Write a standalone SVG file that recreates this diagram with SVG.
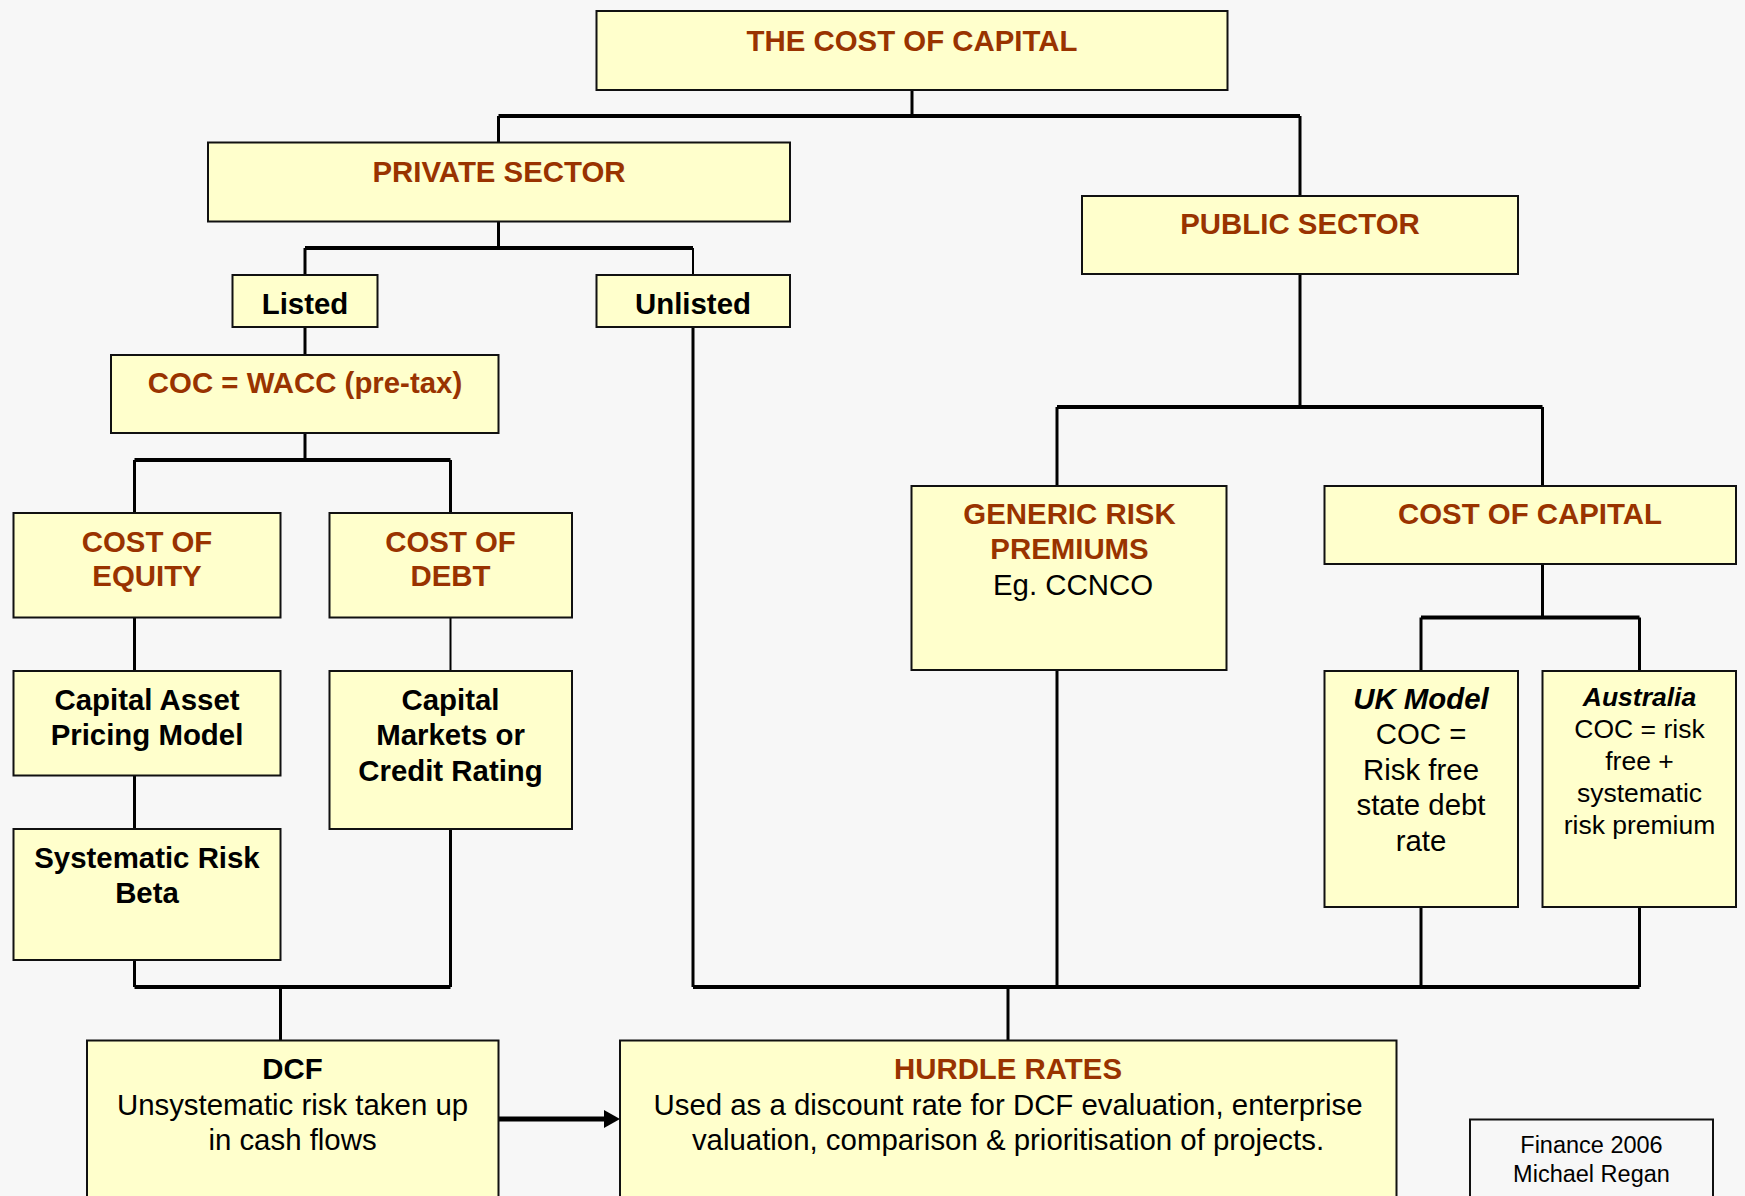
<svg xmlns="http://www.w3.org/2000/svg" width="1745" height="1196" viewBox="0 0 1745 1196">
  <defs>
    <style>
      .box { fill: #ffffcc; stroke: #111; stroke-width: 2; }
      .plain { fill: #f7f7f7; stroke: #111; stroke-width: 2; }
      text { font-family: "Liberation Sans", Arial, sans-serif; font-size: 29.4px; text-anchor: middle; fill: #000; }
      .hd { font-weight: bold; fill: #993300; }
      .bk { font-weight: bold; }
      .bi { font-weight: bold; font-style: italic; }
      .sm { font-size: 26.5px; }
      .ft { font-size: 23.5px; }
      .w { fill: none; stroke: #000; stroke-width: 3; }
      .h { fill: none; stroke: #000; stroke-width: 4; }
      .t { fill: none; stroke: #000; stroke-width: 2; }
    </style>
  </defs>

  <rect width="1745" height="1196" fill="#f7f7f7"/>

  <g id="connectors">
    <!-- root split -->
    <path class="w" d="M912,90 V116"/>
    <path class="h" d="M498.5,116 H1300"/>
    <path class="w" d="M498.5,116 V142.5"/>
    <path class="w" d="M1300,116 V196"/>
    <!-- private sector split -->
    <path class="w" d="M498.5,221.5 V248"/>
    <path class="h" d="M305,248 H693"/>
    <path class="w" d="M305,248 V275"/>
    <path class="t" d="M693,248 V275"/>
    <path class="w" d="M305,327 V355"/>
    <!-- WACC split -->
    <path class="w" d="M305,433 V460"/>
    <path class="h" d="M134.5,460 H450.5"/>
    <path class="w" d="M134.5,460 V513"/>
    <path class="w" d="M450.5,460 V513"/>
    <path class="w" d="M134.5,617.5 V671"/>
    <path class="t" d="M450.5,617.5 V671"/>
    <path class="w" d="M134.5,775.5 V829"/>
    <!-- into DCF -->
    <path class="w" d="M134.5,960 V987"/>
    <path class="w" d="M450.5,829 V987"/>
    <path class="h" d="M134.5,987 H450.5"/>
    <path class="w" d="M280.5,987 V1040.5"/>
    <!-- DCF to hurdle -->
    <path d="M498.5,1119 H605" stroke="#000" stroke-width="5" fill="none"/>
    <path d="M604,1110 L620,1119 L604,1128 Z" fill="#000"/>
    <!-- public sector split -->
    <path class="w" d="M1300,274 V407"/>
    <path class="h" d="M1057,407 H1542.5"/>
    <path class="w" d="M1057,407 V486"/>
    <path class="w" d="M1542.5,407 V486"/>
    <path class="w" d="M1542.5,564 V617.5"/>
    <path class="h" d="M1421,617.5 H1639.5"/>
    <path class="w" d="M1421,617.5 V671"/>
    <path class="w" d="M1639.5,617.5 V671"/>
    <!-- into hurdle rates -->
    <path class="w" d="M693,327 V987"/>
    <path class="w" d="M1057,670 V987"/>
    <path class="w" d="M1421,907 V987"/>
    <path class="w" d="M1639.5,907 V987"/>
    <path class="h" d="M693,987 H1639.5"/>
    <path class="w" d="M1008,987 V1040.5"/>
  </g>

  <g id="cost-of-capital">
    <rect class="box" x="596.5" y="11" width="631" height="79"/>
    <text class="hd" x="912" y="50.5">THE COST OF CAPITAL</text>
  </g>

  <g id="private-sector">
    <rect class="box" x="208" y="142.5" width="582" height="79"/>
    <text class="hd" x="499" y="182">PRIVATE SECTOR</text>
  </g>

  <g id="public-sector">
    <rect class="box" x="1082" y="196" width="436" height="78"/>
    <text class="hd" x="1300" y="234">PUBLIC SECTOR</text>
  </g>

  <g id="listed">
    <rect class="box" x="232.5" y="275" width="145" height="52"/>
    <text class="bk" x="305" y="313.5">Listed</text>
  </g>

  <g id="unlisted">
    <rect class="box" x="596.5" y="275" width="193.5" height="52"/>
    <text class="bk" x="693" y="313.5">Unlisted</text>
  </g>

  <g id="wacc">
    <rect class="box" x="111" y="355" width="387.5" height="78"/>
    <text class="hd" x="305" y="393">COC = WACC (pre-tax)</text>
  </g>

  <g id="cost-of-equity">
    <rect class="box" x="13.5" y="513" width="267" height="104.5"/>
    <text class="hd" x="147" y="551.5">COST OF</text>
    <text class="hd" x="147" y="586">EQUITY</text>
  </g>

  <g id="cost-of-debt">
    <rect class="box" x="329.5" y="513" width="242.5" height="104.5"/>
    <text class="hd" x="450.5" y="551.5">COST OF</text>
    <text class="hd" x="450.5" y="586">DEBT</text>
  </g>

  <g id="capm">
    <rect class="box" x="13.5" y="671" width="267" height="104.5"/>
    <text class="bk" x="147" y="709.5">Capital Asset</text>
    <text class="bk" x="147" y="745">Pricing Model</text>
  </g>

  <g id="credit-rating">
    <rect class="box" x="329.5" y="671" width="242.5" height="158"/>
    <text class="bk" x="450.5" y="709.5">Capital</text>
    <text class="bk" x="450.5" y="745">Markets or</text>
    <text class="bk" x="450.5" y="780.5">Credit Rating</text>
  </g>

  <g id="systematic-risk">
    <rect class="box" x="13.5" y="829" width="267" height="131"/>
    <text class="bk" x="147" y="867.5">Systematic Risk</text>
    <text class="bk" x="147" y="903">Beta</text>
  </g>

  <g id="generic-risk">
    <rect class="box" x="911.5" y="486" width="315" height="184"/>
    <text class="hd" x="1069.5" y="523.5">GENERIC RISK</text>
    <text class="hd" x="1069.5" y="559">PREMIUMS</text>
    <text x="1073" y="595">Eg. CCNCO</text>
  </g>

  <g id="public-coc">
    <rect class="box" x="1324.5" y="486" width="411.5" height="78"/>
    <text class="hd" x="1530" y="523.5">COST OF CAPITAL</text>
  </g>

  <g id="uk-model">
    <rect class="box" x="1324.5" y="671" width="193.5" height="236"/>
    <text class="bi" x="1421" y="709">UK Model</text>
    <text x="1421" y="744">COC =</text>
    <text x="1421" y="779.5">Risk free</text>
    <text x="1421" y="815">state debt</text>
    <text x="1421" y="850.5">rate</text>
  </g>

  <g id="australia">
    <rect class="box" x="1542.5" y="671" width="193.5" height="236"/>
    <text class="bi sm" x="1639.5" y="706">Australia</text>
    <text class="sm" x="1639.5" y="738">COC = risk</text>
    <text class="sm" x="1639.5" y="769.5">free +</text>
    <text class="sm" x="1639.5" y="801.5">systematic</text>
    <text class="sm" x="1639.5" y="833.5">risk premium</text>
  </g>

  <g id="dcf">
    <rect class="box" x="87" y="1040.5" width="411.5" height="170"/>
    <text class="bk" x="292.5" y="1079">DCF</text>
    <text x="292.5" y="1114.5">Unsystematic risk taken up</text>
    <text x="292.5" y="1149.5">in cash flows</text>
  </g>

  <g id="hurdle-rates">
    <rect class="box" x="620" y="1040.5" width="776.5" height="170"/>
    <text class="hd" x="1008" y="1079">HURDLE RATES</text>
    <text x="1008" y="1114.5">Used as a discount rate for DCF evaluation, enterprise</text>
    <text x="1008" y="1149.5">valuation, comparison &amp; prioritisation of projects.</text>
  </g>

  <g id="credit">
    <rect class="plain" x="1470" y="1119.5" width="243" height="90"/>
    <text class="ft" x="1591.5" y="1152.5">Finance 2006</text>
    <text class="ft" x="1591.5" y="1181.5">Michael Regan</text>
  </g>
</svg>
